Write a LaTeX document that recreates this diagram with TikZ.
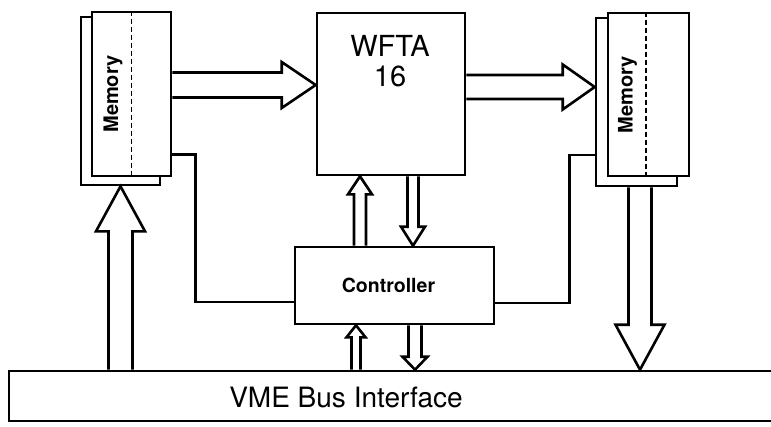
\documentclass[tikz,border=0pt]{standalone}
\usepackage{fontspec}
\setmainfont{TeX Gyre Heros}
\usetikzlibrary{calc}

\newcommand{\fatarrow}[5]{%
  \coordinate (fa-s) at (#1);
  \coordinate (fa-t) at (#2);
  \coordinate (fa-b) at ($(fa-t)!#5!(fa-s)$);
  \draw[fat] ($(fa-s)!#3!90:(fa-t)$) -- ($(fa-b)!#3!90:(fa-t)$) -- ($(fa-b)!#4!90:(fa-t)$)
    -- (fa-t) -- ($(fa-b)!#4!-90:(fa-t)$) -- ($(fa-b)!#3!-90:(fa-t)$) -- ($(fa-s)!#3!-90:(fa-t)$);
}

\begin{document}
\begin{tikzpicture}[x=1pt,y=-1pt,
  box/.style={draw,line width=2.6pt,fill=white,inner sep=0pt},
  fat/.style={line width=2.6pt},
  wire/.style={line width=2.6pt},
  split/.style={line width=1.4pt,dash pattern=on 5pt off 3pt}]
  \useasboundingbox (0,0) rectangle (771,426);
  \node[box,minimum width=79pt,minimum height=168pt] (memLb) at (120.5,101) {};
  \node[box,minimum width=79pt,minimum height=164pt] (memLf) at (131.5,94) {};
  \node[box,minimum width=81pt,minimum height=168pt] (memRb) at (636.5,102) {};
  \node[box,minimum width=81pt,minimum height=163pt] (memRf) at (648.5,94.5) {};
  \node[box,minimum width=148pt,minimum height=162pt] (wfta) at (391,94) {};
  \node[box,minimum width=199pt,minimum height=77pt] (ctrl) at (394.5,285.5) {};
  \node[box,minimum width=776pt,minimum height=50pt] (vme) at (397,396) {};
  \draw[split] (memLf.north) -- (memLf.south);
  \draw[split] ([xshift=-2.5pt]memRf.north) -- ([xshift=-2.5pt]memRf.south);
  \node[rotate=90,font=\fontsize{20}{24}\selectfont\bfseries] (memLt) at ([xshift=2pt]$(memLf.west)!0.5!(memLf.center)$) {Memory};
  \node[rotate=90,font=\fontsize{20}{24}\selectfont\bfseries] (memRt) at ($(memRf.west)!0.5!(memRf.center)$) {Memory};
  \node[align=center,font=\fontsize{29}{30}\selectfont] (wftat) at (390,61) {WFTA\\16};
  \node[font=\fontsize{19.5}{22}\selectfont\bfseries] (ctrlt) at ([xshift=-6pt]ctrl.center) {Controller};
  \node[font=\fontsize{28}{32}\selectfont] (vmet) at (346,397) {VME Bus Interface};
  \fatarrow{[yshift=9pt]memLf.east}{[yshift=9pt]wfta.west}{12.5pt}{23pt}{34pt}
  \fatarrow{[yshift=7pt]wfta.east}{[yshift=15pt]memRb.west}{12pt}{22.5pt}{32pt}
  \fatarrow{memLb.south |- vme.north}{memLb.south}{12pt}{24.5pt}{45pt}
  \fatarrow{[xshift=3.5pt]memRb.south}{[xshift=3.5pt]memRb.south |- vme.north}{11.5pt}{24.5pt}{45pt}
  \fatarrow{[xshift=-34.5pt]ctrl.north}{[xshift=-31pt]wfta.south}{6pt}{12pt}{18pt}
  \fatarrow{[xshift=22pt]wfta.south}{[xshift=18.5pt]ctrl.north}{5.5pt}{12pt}{19pt}
  \fatarrow{[xshift=-38.5pt]ctrl.south |- vme.north}{[xshift=-38.5pt]ctrl.south}{4.5pt}{9.5pt}{12pt}
  \fatarrow{[xshift=20.5pt]ctrl.south}{[xshift=20.5pt]ctrl.south |- vme.north}{6.5pt}{12.5pt}{13pt}
  \draw[wire] ([yshift=23pt]memLf.south east) -| ([xshift=-98pt,yshift=-16.5pt]ctrl.west) -- ([yshift=-16.5pt]ctrl.west);
  \draw[wire] ([yshift=-17.5pt]ctrl.east) -| ([xshift=-25pt,yshift=-53pt]memRb.west) -- ([yshift=-53pt]memRb.west);
\end{tikzpicture}
\end{document}
